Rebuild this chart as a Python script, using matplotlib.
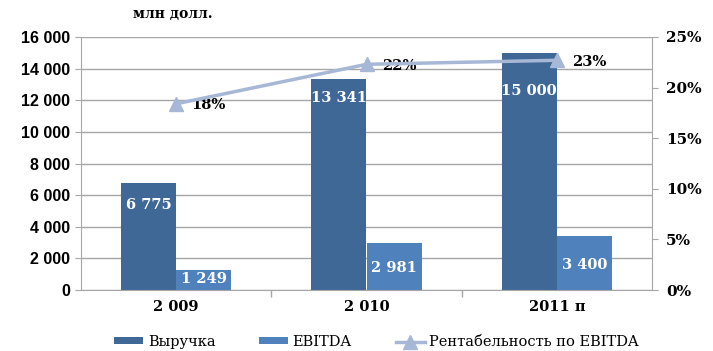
import matplotlib.pyplot as plt
import numpy as np
from matplotlib.ticker import FuncFormatter, PercentFormatter

# revenue / EBITDA, mln USD
years = ['2 009', '2 010', '2011 п']
revenue = [6775, 13341, 15000]
ebitda = [1249, 2981, 3400]
margin = [0.184, 0.223, 0.227]

C_REV = '#3F6897'
C_EBITDA = '#4F81BD'
C_LINE = '#A7B7D6'
GRID = '#A6A6A6'

fig = plt.figure(figsize=(7.13, 3.51), dpi=100)
ax = fig.add_axes([81 / 713, 61 / 351, 571 / 713, 253 / 351])
ax2 = ax.twinx()

x = np.arange(len(years))
w = 0.29
b1 = ax.bar(x - w / 2, revenue, w, color=C_REV, zorder=2)
b2 = ax.bar(x + w / 2, ebitda, w, color=C_EBITDA, zorder=2)

ax.set_xlim(-0.5, 2.5)
ax.set_ylim(0, 16000)
ax.set_yticks(range(0, 16001, 2000))
ax.yaxis.set_major_formatter(FuncFormatter(lambda v, p: f'{int(v):,}'.replace(',', ' ')))
ax.grid(axis='y', color=GRID, lw=1, zorder=0)
ax.set_xticks(x)
ax.set_xticklabels(years, family='DejaVu Serif', fontweight='bold', fontsize=10.5)
ax.set_xticks([0.5, 1.5], minor=True)
ax.tick_params(axis='x', which='major', length=0, pad=7)
ax.tick_params(axis='x', which='minor', length=5, color=GRID, width=1)
ax.tick_params(axis='y', length=4, color=GRID, pad=4)
for t in ax.get_yticklabels():
    t.set_family('Liberation Sans')
    t.set_fontweight('bold')
    t.set_fontsize(11.5)
for s in ['top', 'right']:
    ax.spines[s].set_visible(False)
for s in ['left', 'bottom']:
    ax.spines[s].set_color(GRID)

# value labels inside bars
rev_off = [-22, -19, -38]
eb_off = [-9, -25, -29]
for i in range(len(years)):
    ax.annotate(f'{revenue[i]:,}'.replace(',', ' '), (x[i] - w / 2, revenue[i]),
                xytext=(0, rev_off[i] * 0.72), textcoords='offset points',
                ha='center', va='center', color='white', fontweight='bold',
                family='DejaVu Serif', fontsize=10.5, zorder=5)
    ax.annotate(f'{ebitda[i]:,}'.replace(',', ' '), (x[i] + w / 2, ebitda[i]),
                xytext=(0, eb_off[i] * 0.72), textcoords='offset points',
                ha='center', va='center', color='white', fontweight='bold',
                family='DejaVu Serif', fontsize=10.5, zorder=5)

ln, = ax2.plot(x, margin, color=C_LINE, lw=2.5, marker='^', ms=10, zorder=4)
ax2.set_ylim(0, 0.25)
ax2.set_yticks(np.arange(0, 0.2501, 0.05))
ax2.yaxis.set_major_formatter(PercentFormatter(1, decimals=0))
ax2.tick_params(axis='y', length=4, color=GRID, pad=6)
for t in ax2.get_yticklabels():
    t.set_family('DejaVu Serif')
    t.set_fontweight('bold')
    t.set_fontsize(11)
for s in ['top', 'left', 'bottom']:
    ax2.spines[s].set_visible(False)
ax2.spines['right'].set_color(GRID)
for i in range(len(years)):
    ax2.annotate(f'{margin[i]:.0%}', (x[i], margin[i]), xytext=(11, -1),
                 textcoords='offset points', ha='left', va='center',
                 fontweight='bold', family='DejaVu Serif', fontsize=10.5)

fig.text(133 / 713, 1 - 14 / 351, 'млн долл.', family='DejaVu Serif',
         fontweight='heavy', fontsize=10, va='center')

fig.legend([b1, b2, ln], ['Выручка', 'EBITDA', 'Рентабельность по EBITDA'],
           loc='center', bbox_to_anchor=(0.528, 1 - 342 / 351), ncol=3,
           frameon=False, prop={'family': 'DejaVu Serif', 'size': 10.5},
           handlelength=2.0, handleheight=0.38, columnspacing=3.0,
           handletextpad=0.3, borderpad=0, borderaxespad=0)

fig.savefig('out.png', dpi=100)
